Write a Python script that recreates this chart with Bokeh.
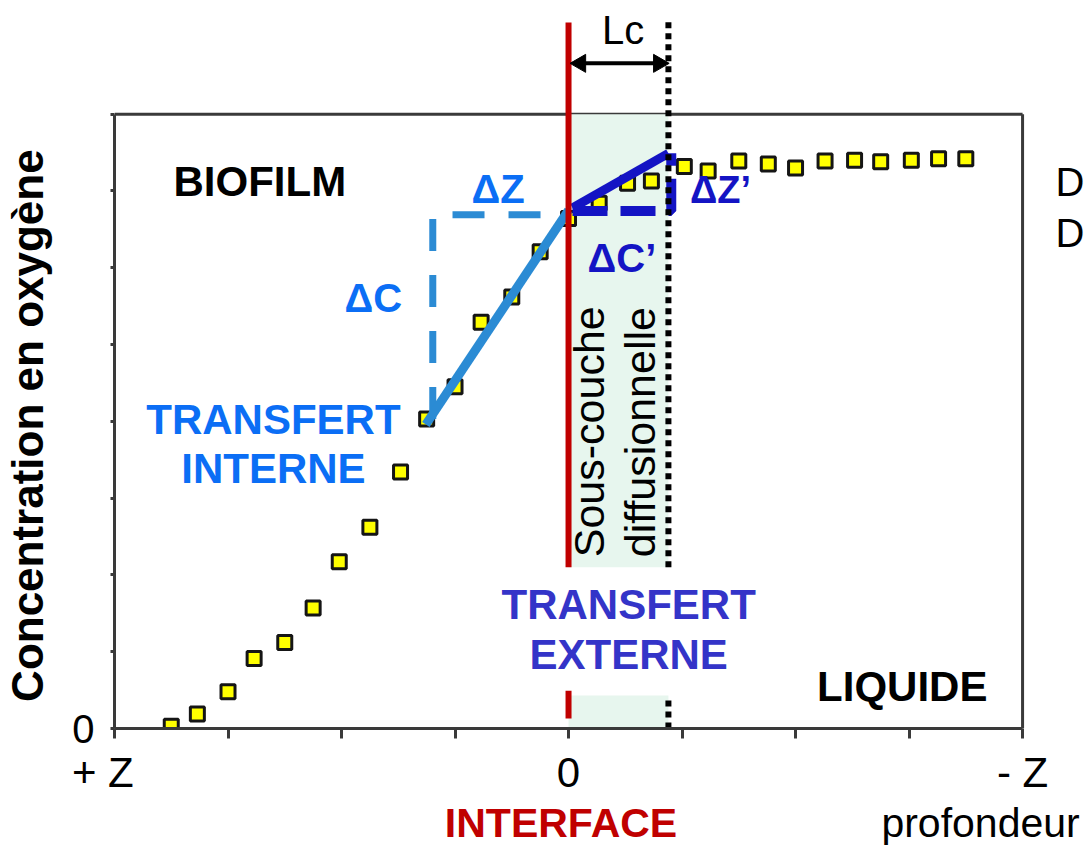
from bokeh.plotting import figure
from bokeh.models import FixedTicker, Range1d
from bokeh.layouts import column
from bokeh.core.properties import value
from bokeh.embed import file_html
from bokeh.resources import INLINE
import math

# ---------------- data ----------------
depth = [-3.50, -3.27, -3.00, -2.77, -2.50, -2.25, -2.02, -1.75, -1.48, -1.25,
         -1.00, -0.77, -0.50, -0.25, 0.00, 0.27, 0.52, 0.73, 1.02, 1.23,
         1.50, 1.76, 2.00, 2.26, 2.52, 2.75, 3.02, 3.26, 3.50]
oxygen = [0.03, 0.19, 0.48, 0.91, 1.12, 1.57, 2.17, 2.62, 3.34, 4.03,
          4.45, 5.29, 5.62, 6.21, 6.64, 6.84, 7.10, 7.13, 7.32, 7.26,
          7.39, 7.35, 7.30, 7.39, 7.40, 7.38, 7.40, 7.42, 7.42]
x_ticks = [-4, -3, -2, -1, 0, 1, 2, 3, 4]
NB = "\u00a0"
x_tick_labels = {-4: "+ Z" + NB * 2, 0: "0", 4: "- Z"}
y_ticks = [0, 1, 2, 3, 4, 5, 6, 7, 8]
interface_z = 0.0
lc = 0.88                          # thickness of the diffusion sub-layer
# internal transfer triangle
int_z = [-1.257, 0.0]
int_c = [3.96, 6.75]
int_dash_z = [-1.196, -1.196, 0.0]
int_dash_c = [4.03, 6.69, 6.69]
# external transfer triangle
ext_z = [0.035, 0.88]
ext_c = [6.78, 7.49]
ext_dash_z = [0.035, 0.905, 0.905]
ext_dash_c = [6.74, 6.74, 7.49]

FONT = "Liberation Sans"
LIGHT = "#2b8bd4"
LIGHT_TXT = "#0b6ef5"
DARK = "#1414c4"
DARK_TXT = "#3434c8"
RED = "#c00000"
AX = "#3a3a3a"
MINT = "#e7f6ee"

W = 1086
LEFT = 113                      # left border (px)
FRAME_H = 730                   # frame height (px)
MAIN_H, BOT_H = 798, 47
PX_X = 909 / 8.0                # px per x unit
PX_Y = 616 / 8.0                # px per y unit

x_rng = Range1d(-4, -4 + (W - LEFT) / PX_X)


def base(height, yr, **kw):
    f = figure(width=W, height=height, x_range=x_rng, y_range=yr,
               output_backend="svg", toolbar_location=None, **kw)
    f.grid.visible = False
    f.background_fill_color = "white"
    f.border_fill_color = "white"
    f.outline_line_color = None
    return f


def txt(f, x, y, s, color="black", size="42px", bold=True, align="center", angle=0.0):
    f.text(x=[x], y=[y], text=[s], text_color=color, text_font=value(FONT),
           text_font_size=size, text_font_style="bold" if bold else "normal",
           text_align=align, text_baseline="middle", angle=angle)


# ---------------- main plot ----------------
p = base(MAIN_H, Range1d(0, FRAME_H / PX_Y),
         min_border_left=LEFT, min_border_right=0, min_border_top=0,
         min_border_bottom=MAIN_H - FRAME_H)

xa = p.xaxis[0]
xa.bounds = (-4, 4)
xa.ticker = FixedTicker(ticks=x_ticks)
xa.major_label_overrides = {t: x_tick_labels.get(t, "") for t in x_ticks}
xa.minor_tick_line_color = None
xa.major_tick_out = 10
xa.major_tick_in = 0
xa.major_tick_line_width = 3
xa.major_tick_line_color = AX
xa.axis_line_width = 3
xa.axis_line_color = AX
xa.major_label_text_font = FONT
xa.major_label_text_font_size = "42px"
xa.major_label_text_color = "black"
xa.major_label_standoff = 10

ya = p.yaxis[0]
ya.bounds = (0, 8)
ya.ticker = FixedTicker(ticks=y_ticks)
ya.major_label_overrides = {t: ("0" if t == 0 else "") for t in y_ticks}
ya.minor_tick_line_color = None
ya.major_tick_out = 4
ya.major_tick_in = 0
ya.major_tick_line_width = 3
ya.major_tick_line_color = AX
ya.axis_line_width = 3
ya.axis_line_color = AX
ya.major_label_text_font = FONT
ya.major_label_text_font_size = "40px"
ya.major_label_text_color = "black"
ya.major_label_standoff = 16
# trailing no-break spaces shift the visible title down to the centre of the box
ya.axis_label = "Concentration  en oxygène" + NB * 9
ya.axis_label_text_font = FONT
ya.axis_label_text_font_style = "bold"
ya.axis_label_text_font_size = "44px"
ya.axis_label_text_color = "black"
ya.axis_label_standoff = 17

# frame box (top and right sides)
p.segment(x0=[-4, 4], y0=[8, 0], x1=[4, 4], y1=[8, 8], line_color=AX, line_width=3)

# diffusion sub-layer shading (interrupted by the text box)
p.quad(left=[interface_z, interface_z], right=[lc, lc], bottom=[2.10, 0.0], top=[8.0, 0.43],
       fill_color=MINT, line_color=None)

# data points
p.scatter(depth, oxygen, marker="square", size=14, fill_color="#ffff00",
          line_color="#151515", line_width=3)

# internal transfer
p.line(int_dash_z, int_dash_c, line_color=LIGHT, line_width=7, line_dash="32 24")
p.line(int_z, int_c, line_color=LIGHT, line_width=9)
# external transfer
p.line(ext_dash_z, ext_dash_c, line_color=DARK, line_width=10, line_dash="35 13")
p.line(ext_z, ext_c, line_color=DARK, line_width=9)

# interface (red) and limit of the sub-layer (dotted)
p.segment(x0=[interface_z, interface_z], y0=[2.10, 0.13], x1=[interface_z, interface_z],
          y1=[9.195, 0.49], line_color=RED, line_width=6)
p.segment(x0=[lc, lc], y0=[2.10, 0.0], x1=[lc, lc], y1=[9.22, 0.43],
          line_color="black", line_width=6, line_dash="6 5")

# Lc double arrow
p.segment(x0=[0.09], y0=[8.662], x1=[0.81], y1=[8.662], line_color="black", line_width=4)
p.scatter(x=[0.105, 0.795], y=[8.662, 8.662], marker="triangle", size=18,
          angle=[math.pi / 2, -math.pi / 2], fill_color="black", line_color="black")
txt(p, 0.48, 9.09, "Lc", size="40px", bold=False)

txt(p, -3.48, 7.12, "BIOFILM", align="left")
txt(p, -0.62, 7.03, "ΔZ", color=LIGHT_TXT, size="40px")
txt(p, -1.72, 5.61, "ΔC", color=LIGHT_TXT, size="40px")
txt(p, -2.60, 4.03, "TRANSFERT", color=LIGHT_TXT)
txt(p, -2.60, 3.38, "INTERNE", color=LIGHT_TXT)
txt(p, 1.07, 7.01, "ΔZ’", color=DARK, size="38px", align="left")
txt(p, 0.47, 6.13, "ΔC’", color=DARK, size="40px")
txt(p, 0.18, 2.23, "Sous-couche", bold=False, size="43px", align="left", angle=math.pi / 2)
txt(p, 0.63, 2.23, "diffusionnelle", bold=False, size="43px", align="left", angle=math.pi / 2)
txt(p, 0.53, 1.62, "TRANSFERT", color=DARK_TXT)
txt(p, 0.53, 0.97, "EXTERNE", color=DARK_TXT)
txt(p, 2.94, 0.55, "LIQUIDE")
txt(p, 4.29, 7.12, "D", size="40px", bold=False, align="left")
txt(p, 4.29, 6.45, "D", size="40px", bold=False, align="left")

# ---------------- bottom strip (second row of labels) ----------------
bot = base(BOT_H, Range1d(0, BOT_H), x_axis_type=None, y_axis_type=None,
           min_border_left=LEFT, min_border_right=0, min_border_top=0, min_border_bottom=0)
txt(bot, -0.066, 23, "INTERFACE", color=RED, size="41px")
txt(bot, 3.63, 23, "profondeur", bold=False, size="41px")

layout = column(p, bot, spacing=0)
open("out.html", "w").write(file_html(layout, INLINE))
